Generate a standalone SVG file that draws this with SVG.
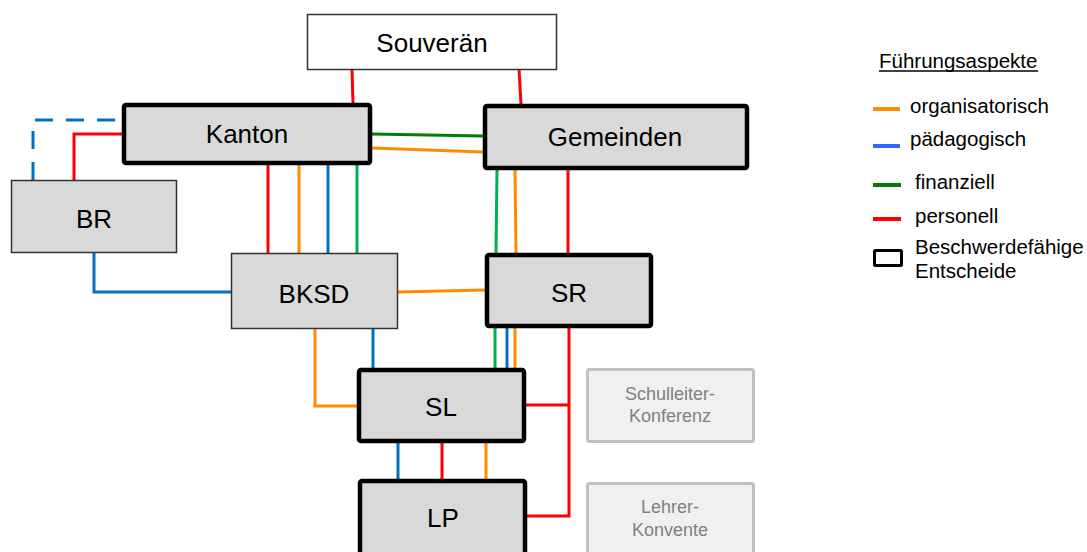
<svg xmlns="http://www.w3.org/2000/svg" width="1087" height="552" viewBox="0 0 1087 552">
<style>
.t{font-family:"Liberation Sans",Arial,sans-serif;fill:#000;}
.big{font-size:26px;text-anchor:middle;}
.lg{font-size:20.5px;}
.gt{font-family:"Liberation Sans",Arial,sans-serif;font-size:18px;fill:#808080;text-anchor:middle;}
.thin{fill:#d9d9d9;stroke:#333;stroke-width:1.5;}
.thick{fill:#d9d9d9;stroke:#000;stroke-width:4.5;}
.grey{fill:#f0f0f0;stroke:#c0c0c0;stroke-width:3;}
.c{fill:none;stroke-width:3;}
.r{stroke:#ff0000;}.o{stroke:#ff8c00;}.b{stroke:#0070c0;}.g{stroke:#00b050;}.dg{stroke:#008000;}
</style>
<rect width="1087" height="552" fill="#fff"/>
<g id="connectors">
<path class="c r" d="M352 69 L353 103"/>
<path class="c r" d="M519 69 L521 104"/>
<path class="c b" d="M33 180 V120 H122" stroke-width="3.5" stroke-dasharray="18 13"/>
<path class="c r" d="M74 180 V134 H122"/>
<path class="c r" d="M268 165 V253"/>
<path class="c o" d="M299 165 V253"/>
<path class="c b" d="M328 165 V253"/>
<path class="c g" d="M357 165 V253"/>
<path class="c dg" d="M372 134 L483 136"/>
<path class="c o" d="M372 148 L483 152"/>
<path class="c g" d="M497 170 L496 253"/>
<path class="c o" d="M515 170 L516 253"/>
<path class="c r" d="M568 170 V253"/>
<path class="c b" d="M94 252 V292 H231"/>
<path class="c o" d="M398 292 L485 290"/>
<path class="c o" d="M315 329 V406 H357"/>
<path class="c b" d="M373 329 V368"/>
<path class="c g" d="M495 328 V368"/>
<path class="c b" d="M507 328 V368"/>
<path class="c o" d="M515 328 V368"/>
<path class="c r" d="M569 328 V516 H527 M526 405 H569"/>
<path class="c b" d="M398 443 V479"/>
<path class="c r" d="M442 443 V479"/>
<path class="c o" d="M486 443 V479"/>
</g>
<g id="souveraen"><rect x="307.5" y="14.5" width="249" height="55" fill="#fff" stroke="#333" stroke-width="1.5"/><text class="t big" x="432" y="52">Souverän</text></g>
<g id="kanton"><rect class="thick" x="124" y="105" width="246" height="58" rx="2"/><text class="t big" x="247" y="143">Kanton</text></g>
<g id="gemeinden"><rect class="thick" x="485" y="106" width="262" height="62" rx="2"/><text class="t big" x="615" y="146">Gemeinden</text></g>
<g id="br"><rect class="thin" x="11.5" y="180.5" width="165" height="72"/><text class="t big" x="94" y="228">BR</text></g>
<g id="bksd"><rect class="thin" x="231.5" y="253.5" width="166" height="75"/><text class="t big" x="314" y="303">BKSD</text></g>
<g id="sr"><rect class="thick" x="487" y="255" width="164" height="71" rx="2"/><text class="t big" x="569" y="302">SR</text></g>
<g id="sl"><rect class="thick" x="359" y="370" width="165" height="71" rx="2"/><text class="t big" x="441" y="416">SL</text></g>
<g id="lp"><rect class="thick" x="360" y="481" width="165" height="90" rx="2"/><text class="t big" x="443" y="527">LP</text></g>
<g id="slk"><rect class="grey" x="587.5" y="369.5" width="166" height="72" rx="2"/><text class="gt" x="670" y="400">Schulleiter-</text><text class="gt" x="670" y="422">Konferenz</text></g>
<g id="lk"><rect class="grey" x="587.5" y="483.5" width="166" height="80" rx="2"/><text class="gt" x="670" y="513">Lehrer-</text><text class="gt" x="670" y="536">Konvente</text></g>
<g id="legend">
<text class="t lg" x="879" y="68">Führungsaspekte</text>
<line x1="879" y1="71" x2="1038" y2="71" stroke="#000" stroke-width="1.3"/>
<line x1="873" y1="109" x2="900" y2="109" stroke="#ff8c00" stroke-width="4"/>
<text class="t lg" x="910" y="113">organisatorisch</text>
<line x1="873" y1="146" x2="900" y2="146" stroke="#3366ff" stroke-width="4"/>
<text class="t lg" x="910" y="146">pädagogisch</text>
<line x1="873" y1="185" x2="901" y2="185" stroke="#008000" stroke-width="4"/>
<text class="t lg" x="915" y="189">finanziell</text>
<line x1="873" y1="219" x2="901" y2="219" stroke="#ff0000" stroke-width="4"/>
<text class="t lg" x="915" y="223">personell</text>
<rect x="874.5" y="250.5" width="27" height="15" fill="#fff" stroke="#000" stroke-width="3" rx="1"/>
<text class="t lg" x="915" y="254">Beschwerdefähige</text>
<text class="t lg" x="915" y="278">Entscheide</text>
</g>
</svg>
